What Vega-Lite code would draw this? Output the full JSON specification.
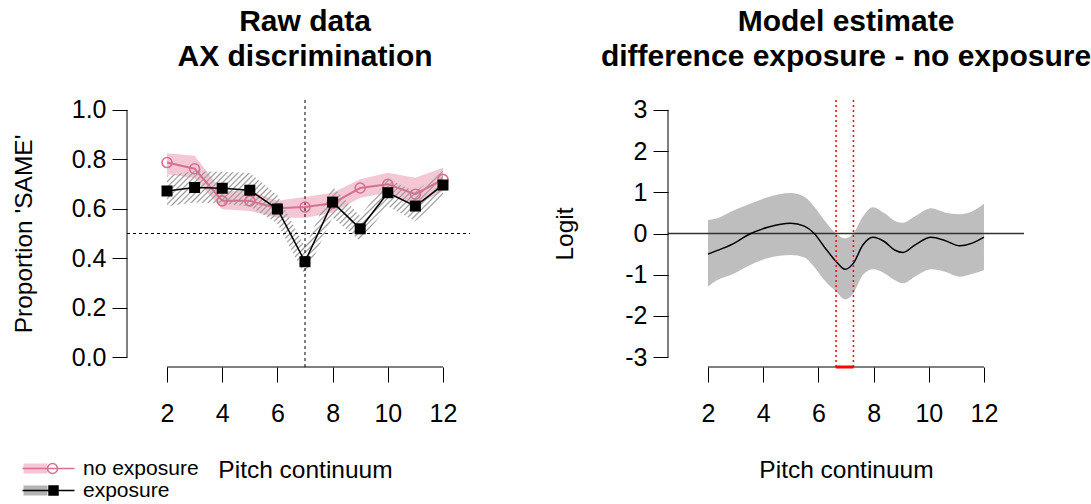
{
  "$schema": "https://vega.github.io/schema/vega-lite/v6.json",
  "padding": {"left": 10, "top": 7, "right": 5, "bottom": 5},
  "background": "white",
  "spacing": 68,
  "resolve": {"scale": {"fill": "independent", "stroke": "independent"}},
  "config": {
    "font": "Liberation Sans",
    "view": {"stroke": null},
    "axis": {"grid": false, "domain": false, "ticks": true, "tickSize": 15, "tickColor": "#000000", "tickWidth": 1, "labelColor": "#000000", "labelFontSize": 25, "titleColor": "#000000", "titleFontSize": 24.5, "titleFontWeight": "normal", "labelFont": "Liberation Sans", "titleFont": "Liberation Sans"},
    "title": {"fontSize": 30, "fontWeight": "bold", "color": "#000000", "lineHeight": 35, "frame": "group", "anchor": "middle", "offset": 25.5, "font": "Liberation Sans"},
    "legend": {"labelFont": "Liberation Sans"}
  },
  "datasets": {
    "raw": [
      {"x": 2, "series": "no exposure", "p": 0.787, "lo": 0.74, "hi": 0.825},
      {"x": 3, "series": "no exposure", "p": 0.762, "lo": 0.725, "hi": 0.815},
      {"x": 4, "series": "no exposure", "p": 0.632, "lo": 0.598, "hi": 0.672},
      {"x": 5, "series": "no exposure", "p": 0.632, "lo": 0.591, "hi": 0.672},
      {"x": 6, "series": "no exposure", "p": 0.602, "lo": 0.564, "hi": 0.632},
      {"x": 7, "series": "no exposure", "p": 0.607, "lo": 0.564, "hi": 0.648},
      {"x": 8, "series": "no exposure", "p": 0.622, "lo": 0.584, "hi": 0.665},
      {"x": 9, "series": "no exposure", "p": 0.684, "lo": 0.645, "hi": 0.719},
      {"x": 10, "series": "no exposure", "p": 0.699, "lo": 0.665, "hi": 0.746},
      {"x": 11, "series": "no exposure", "p": 0.659, "lo": 0.611, "hi": 0.726},
      {"x": 12, "series": "no exposure", "p": 0.719, "lo": 0.672, "hi": 0.766},
      {"x": 2, "series": "exposure", "p": 0.672, "lo": 0.61, "hi": 0.735},
      {"x": 3, "series": "exposure", "p": 0.686, "lo": 0.625, "hi": 0.752},
      {"x": 4, "series": "exposure", "p": 0.683, "lo": 0.62, "hi": 0.75},
      {"x": 5, "series": "exposure", "p": 0.675, "lo": 0.61, "hi": 0.745},
      {"x": 6, "series": "exposure", "p": 0.599, "lo": 0.54, "hi": 0.655},
      {"x": 7, "series": "exposure", "p": 0.386, "lo": 0.33, "hi": 0.445},
      {"x": 8, "series": "exposure", "p": 0.627, "lo": 0.565, "hi": 0.69},
      {"x": 9, "series": "exposure", "p": 0.519, "lo": 0.47, "hi": 0.57},
      {"x": 10, "series": "exposure", "p": 0.665, "lo": 0.61, "hi": 0.72},
      {"x": 11, "series": "exposure", "p": 0.611, "lo": 0.55, "hi": 0.67},
      {"x": 12, "series": "exposure", "p": 0.696, "lo": 0.645, "hi": 0.755}
    ],
    "model": [
      {"x": 2.0, "est": -0.5, "lo": -1.29, "hi": 0.33},
      {"x": 2.34, "est": -0.41, "lo": -1.13, "hi": 0.37},
      {"x": 2.82, "est": -0.28, "lo": -1.01, "hi": 0.53},
      {"x": 3.55, "est": 0.0, "lo": -0.76, "hi": 0.73},
      {"x": 4.16, "est": 0.15, "lo": -0.6, "hi": 0.88},
      {"x": 5.0, "est": 0.25, "lo": -0.52, "hi": 0.98},
      {"x": 5.49, "est": 0.18, "lo": -0.58, "hi": 0.89},
      {"x": 5.85, "est": 0.0, "lo": -0.81, "hi": 0.65},
      {"x": 6.21, "est": -0.32, "lo": -1.13, "hi": 0.33},
      {"x": 6.64, "est": -0.68, "lo": -1.41, "hi": 0.0},
      {"x": 6.97, "est": -0.87, "lo": -1.6, "hi": -0.12},
      {"x": 7.27, "est": -0.72, "lo": -1.45, "hi": 0.0},
      {"x": 7.61, "est": -0.28, "lo": -1.01, "hi": 0.41},
      {"x": 7.97, "est": -0.09, "lo": -0.87, "hi": 0.64},
      {"x": 8.4, "est": -0.2, "lo": -0.97, "hi": 0.49},
      {"x": 8.76, "est": -0.4, "lo": -1.13, "hi": 0.31},
      {"x": 9.07, "est": -0.46, "lo": -1.21, "hi": 0.26},
      {"x": 9.49, "est": -0.28, "lo": -1.05, "hi": 0.41},
      {"x": 10.09, "est": -0.09, "lo": -0.87, "hi": 0.61},
      {"x": 10.58, "est": -0.17, "lo": -0.93, "hi": 0.51},
      {"x": 11.12, "est": -0.3, "lo": -1.05, "hi": 0.47},
      {"x": 11.55, "est": -0.24, "lo": -0.98, "hi": 0.53},
      {"x": 12.0, "est": -0.09, "lo": -0.89, "hi": 0.72}
    ],
    "sig": [
      {"x": 6.64},
      {"x": 7.27}
    ]
  },
  "hconcat": [
    {
      "width": 356,
      "height": 267,
      "title": {"text": ["Raw data", "AX discrimination"]},
      "data": {"name": "raw"},
      "layer": [
        {
          "transform": [{"filter": "datum.series === 'no exposure'"}],
          "mark": {"type": "area"},
          "encoding": {
            "x": {"field": "x", "type": "quantitative", "title": "Pitch continuum", "scale": {"domain": [0.55, 13.45], "nice": false, "zero": false},
                  "axis": {"values": [2, 4, 6, 8, 10, 12], "labelBaseline": "alphabetic", "labelPadding": 39, "labelFlush": false, "titleBaseline": "alphabetic", "titleY": 110}},
            "y": {"field": "lo", "type": "quantitative", "title": "Proportion 'SAME'", "scale": {"domain": [-0.04, 1.04], "nice": false, "zero": false},
                  "axis": {"values": [0, 0.2, 0.4, 0.6, 0.8, 1.0], "format": ".1f", "labelPadding": 6, "titleX": -91, "titleBaseline": "bottom"}},
            "y2": {"field": "hi"},
            "fill": {"field": "series", "type": "nominal", "scale": {"domain": ["exposure", "no exposure"], "range": ["#b4b4b4", "#F3C7D4"]},
              "legend": {"orient": "none", "legendX": -89, "legendY": 358, "title": null, "values": ["no exposure", "exposure"], "symbolSize": 100, "labelFontSize": 21, "labelOffset": 24, "rowPadding": 0, "padding": 0, "labelColor": "transparent",
                "encode": {"symbols": {"update": {
                  "shape": {"value": "M-5,-1H-0.2V1H-5Z"},
                  "stroke": {"value": "transparent"},
                  "strokeWidth": {"value": 0},
                  "opacity": {"value": 1},
                  "fill": {"signal": "datum.value === 'exposure' ? {gradient: 'linear', x1: 0, y1: 0, x2: 1.2, y2: 0.52, stops: [{offset: 0, color: '#8a8a8a'}, {offset: 0.05, color: 'rgba(138,138,138,0)'}, {offset: 0.117, color: 'rgba(138,138,138,0)'}, {offset: 0.1667, color: '#8a8a8a'}, {offset: 0.2167, color: 'rgba(138,138,138,0)'}, {offset: 0.2833, color: 'rgba(138,138,138,0)'}, {offset: 0.3333, color: '#8a8a8a'}, {offset: 0.3833, color: 'rgba(138,138,138,0)'}, {offset: 0.45, color: 'rgba(138,138,138,0)'}, {offset: 0.5, color: '#8a8a8a'}, {offset: 0.55, color: 'rgba(138,138,138,0)'}, {offset: 0.6167, color: 'rgba(138,138,138,0)'}, {offset: 0.6667, color: '#8a8a8a'}, {offset: 0.7167, color: 'rgba(138,138,138,0)'}, {offset: 0.7833, color: 'rgba(138,138,138,0)'}, {offset: 0.8333, color: '#8a8a8a'}, {offset: 0.8833, color: 'rgba(138,138,138,0)'}, {offset: 0.95, color: 'rgba(138,138,138,0)'}, {offset: 1, color: '#8a8a8a'}]} : '#F3C7D4'"}
                }}}
              }
            }
          }
        },
        {
          "transform": [{"filter": "datum.series === 'exposure'"}],
          "mark": {"type": "area", "fill": {"gradient": "linear", "x1": 0, "y1": 0, "x2": 1.25, "y2": 0.475, "stops": [
            {"offset": 0, "color": "#999999"}, {"offset": 0.0043, "color": "rgba(153,153,153,0)"}, {"offset": 0.01, "color": "rgba(153,153,153,0)"},
            {"offset": 0.0143, "color": "#999999"}, {"offset": 0.0186, "color": "rgba(153,153,153,0)"}, {"offset": 0.0243, "color": "rgba(153,153,153,0)"},
            {"offset": 0.0286, "color": "#999999"}, {"offset": 0.0329, "color": "rgba(153,153,153,0)"}, {"offset": 0.0386, "color": "rgba(153,153,153,0)"},
            {"offset": 0.0429, "color": "#999999"}, {"offset": 0.0471, "color": "rgba(153,153,153,0)"}, {"offset": 0.0529, "color": "rgba(153,153,153,0)"},
            {"offset": 0.0571, "color": "#999999"}, {"offset": 0.0614, "color": "rgba(153,153,153,0)"}, {"offset": 0.0671, "color": "rgba(153,153,153,0)"},
            {"offset": 0.0714, "color": "#999999"}, {"offset": 0.0757, "color": "rgba(153,153,153,0)"}, {"offset": 0.0814, "color": "rgba(153,153,153,0)"},
            {"offset": 0.0857, "color": "#999999"}, {"offset": 0.09, "color": "rgba(153,153,153,0)"}, {"offset": 0.0957, "color": "rgba(153,153,153,0)"},
            {"offset": 0.1, "color": "#999999"}, {"offset": 0.1043, "color": "rgba(153,153,153,0)"}, {"offset": 0.11, "color": "rgba(153,153,153,0)"},
            {"offset": 0.1143, "color": "#999999"}, {"offset": 0.1186, "color": "rgba(153,153,153,0)"}, {"offset": 0.1243, "color": "rgba(153,153,153,0)"},
            {"offset": 0.1286, "color": "#999999"}, {"offset": 0.1329, "color": "rgba(153,153,153,0)"}, {"offset": 0.1386, "color": "rgba(153,153,153,0)"},
            {"offset": 0.1429, "color": "#999999"}, {"offset": 0.1471, "color": "rgba(153,153,153,0)"}, {"offset": 0.1529, "color": "rgba(153,153,153,0)"},
            {"offset": 0.1571, "color": "#999999"}, {"offset": 0.1614, "color": "rgba(153,153,153,0)"}, {"offset": 0.1671, "color": "rgba(153,153,153,0)"},
            {"offset": 0.1714, "color": "#999999"}, {"offset": 0.1757, "color": "rgba(153,153,153,0)"}, {"offset": 0.1814, "color": "rgba(153,153,153,0)"},
            {"offset": 0.1857, "color": "#999999"}, {"offset": 0.19, "color": "rgba(153,153,153,0)"}, {"offset": 0.1957, "color": "rgba(153,153,153,0)"},
            {"offset": 0.2, "color": "#999999"}, {"offset": 0.2043, "color": "rgba(153,153,153,0)"}, {"offset": 0.21, "color": "rgba(153,153,153,0)"},
            {"offset": 0.2143, "color": "#999999"}, {"offset": 0.2186, "color": "rgba(153,153,153,0)"}, {"offset": 0.2243, "color": "rgba(153,153,153,0)"},
            {"offset": 0.2286, "color": "#999999"}, {"offset": 0.2329, "color": "rgba(153,153,153,0)"}, {"offset": 0.2386, "color": "rgba(153,153,153,0)"},
            {"offset": 0.2429, "color": "#999999"}, {"offset": 0.2471, "color": "rgba(153,153,153,0)"}, {"offset": 0.2529, "color": "rgba(153,153,153,0)"},
            {"offset": 0.2571, "color": "#999999"}, {"offset": 0.2614, "color": "rgba(153,153,153,0)"}, {"offset": 0.2671, "color": "rgba(153,153,153,0)"},
            {"offset": 0.2714, "color": "#999999"}, {"offset": 0.2757, "color": "rgba(153,153,153,0)"}, {"offset": 0.2814, "color": "rgba(153,153,153,0)"},
            {"offset": 0.2857, "color": "#999999"}, {"offset": 0.29, "color": "rgba(153,153,153,0)"}, {"offset": 0.2957, "color": "rgba(153,153,153,0)"},
            {"offset": 0.3, "color": "#999999"}, {"offset": 0.3043, "color": "rgba(153,153,153,0)"}, {"offset": 0.31, "color": "rgba(153,153,153,0)"},
            {"offset": 0.3143, "color": "#999999"}, {"offset": 0.3186, "color": "rgba(153,153,153,0)"}, {"offset": 0.3243, "color": "rgba(153,153,153,0)"},
            {"offset": 0.3286, "color": "#999999"}, {"offset": 0.3329, "color": "rgba(153,153,153,0)"}, {"offset": 0.3386, "color": "rgba(153,153,153,0)"},
            {"offset": 0.3429, "color": "#999999"}, {"offset": 0.3471, "color": "rgba(153,153,153,0)"}, {"offset": 0.3529, "color": "rgba(153,153,153,0)"},
            {"offset": 0.3571, "color": "#999999"}, {"offset": 0.3614, "color": "rgba(153,153,153,0)"}, {"offset": 0.3671, "color": "rgba(153,153,153,0)"},
            {"offset": 0.3714, "color": "#999999"}, {"offset": 0.3757, "color": "rgba(153,153,153,0)"}, {"offset": 0.3814, "color": "rgba(153,153,153,0)"},
            {"offset": 0.3857, "color": "#999999"}, {"offset": 0.39, "color": "rgba(153,153,153,0)"}, {"offset": 0.3957, "color": "rgba(153,153,153,0)"},
            {"offset": 0.4, "color": "#999999"}, {"offset": 0.4043, "color": "rgba(153,153,153,0)"}, {"offset": 0.41, "color": "rgba(153,153,153,0)"},
            {"offset": 0.4143, "color": "#999999"}, {"offset": 0.4186, "color": "rgba(153,153,153,0)"}, {"offset": 0.4243, "color": "rgba(153,153,153,0)"},
            {"offset": 0.4286, "color": "#999999"}, {"offset": 0.4329, "color": "rgba(153,153,153,0)"}, {"offset": 0.4386, "color": "rgba(153,153,153,0)"},
            {"offset": 0.4429, "color": "#999999"}, {"offset": 0.4471, "color": "rgba(153,153,153,0)"}, {"offset": 0.4529, "color": "rgba(153,153,153,0)"},
            {"offset": 0.4571, "color": "#999999"}, {"offset": 0.4614, "color": "rgba(153,153,153,0)"}, {"offset": 0.4671, "color": "rgba(153,153,153,0)"},
            {"offset": 0.4714, "color": "#999999"}, {"offset": 0.4757, "color": "rgba(153,153,153,0)"}, {"offset": 0.4814, "color": "rgba(153,153,153,0)"},
            {"offset": 0.4857, "color": "#999999"}, {"offset": 0.49, "color": "rgba(153,153,153,0)"}, {"offset": 0.4957, "color": "rgba(153,153,153,0)"},
            {"offset": 0.5, "color": "#999999"}, {"offset": 0.5043, "color": "rgba(153,153,153,0)"}, {"offset": 0.51, "color": "rgba(153,153,153,0)"},
            {"offset": 0.5143, "color": "#999999"}, {"offset": 0.5186, "color": "rgba(153,153,153,0)"}, {"offset": 0.5243, "color": "rgba(153,153,153,0)"},
            {"offset": 0.5286, "color": "#999999"}, {"offset": 0.5329, "color": "rgba(153,153,153,0)"}, {"offset": 0.5386, "color": "rgba(153,153,153,0)"},
            {"offset": 0.5429, "color": "#999999"}, {"offset": 0.5471, "color": "rgba(153,153,153,0)"}, {"offset": 0.5529, "color": "rgba(153,153,153,0)"},
            {"offset": 0.5571, "color": "#999999"}, {"offset": 0.5614, "color": "rgba(153,153,153,0)"}, {"offset": 0.5671, "color": "rgba(153,153,153,0)"},
            {"offset": 0.5714, "color": "#999999"}, {"offset": 0.5757, "color": "rgba(153,153,153,0)"}, {"offset": 0.5814, "color": "rgba(153,153,153,0)"},
            {"offset": 0.5857, "color": "#999999"}, {"offset": 0.59, "color": "rgba(153,153,153,0)"}, {"offset": 0.5957, "color": "rgba(153,153,153,0)"},
            {"offset": 0.6, "color": "#999999"}, {"offset": 0.6043, "color": "rgba(153,153,153,0)"}, {"offset": 0.61, "color": "rgba(153,153,153,0)"},
            {"offset": 0.6143, "color": "#999999"}, {"offset": 0.6186, "color": "rgba(153,153,153,0)"}, {"offset": 0.6243, "color": "rgba(153,153,153,0)"},
            {"offset": 0.6286, "color": "#999999"}, {"offset": 0.6329, "color": "rgba(153,153,153,0)"}, {"offset": 0.6386, "color": "rgba(153,153,153,0)"},
            {"offset": 0.6429, "color": "#999999"}, {"offset": 0.6471, "color": "rgba(153,153,153,0)"}, {"offset": 0.6529, "color": "rgba(153,153,153,0)"},
            {"offset": 0.6571, "color": "#999999"}, {"offset": 0.6614, "color": "rgba(153,153,153,0)"}, {"offset": 0.6671, "color": "rgba(153,153,153,0)"},
            {"offset": 0.6714, "color": "#999999"}, {"offset": 0.6757, "color": "rgba(153,153,153,0)"}, {"offset": 0.6814, "color": "rgba(153,153,153,0)"},
            {"offset": 0.6857, "color": "#999999"}, {"offset": 0.69, "color": "rgba(153,153,153,0)"}, {"offset": 0.6957, "color": "rgba(153,153,153,0)"},
            {"offset": 0.7, "color": "#999999"}, {"offset": 0.7043, "color": "rgba(153,153,153,0)"}, {"offset": 0.71, "color": "rgba(153,153,153,0)"},
            {"offset": 0.7143, "color": "#999999"}, {"offset": 0.7186, "color": "rgba(153,153,153,0)"}, {"offset": 0.7243, "color": "rgba(153,153,153,0)"},
            {"offset": 0.7286, "color": "#999999"}, {"offset": 0.7329, "color": "rgba(153,153,153,0)"}, {"offset": 0.7386, "color": "rgba(153,153,153,0)"},
            {"offset": 0.7429, "color": "#999999"}, {"offset": 0.7471, "color": "rgba(153,153,153,0)"}, {"offset": 0.7529, "color": "rgba(153,153,153,0)"},
            {"offset": 0.7571, "color": "#999999"}, {"offset": 0.7614, "color": "rgba(153,153,153,0)"}, {"offset": 0.7671, "color": "rgba(153,153,153,0)"},
            {"offset": 0.7714, "color": "#999999"}, {"offset": 0.7757, "color": "rgba(153,153,153,0)"}, {"offset": 0.7814, "color": "rgba(153,153,153,0)"},
            {"offset": 0.7857, "color": "#999999"}, {"offset": 0.79, "color": "rgba(153,153,153,0)"}, {"offset": 0.7957, "color": "rgba(153,153,153,0)"},
            {"offset": 0.8, "color": "#999999"}, {"offset": 0.8043, "color": "rgba(153,153,153,0)"}, {"offset": 0.81, "color": "rgba(153,153,153,0)"},
            {"offset": 0.8143, "color": "#999999"}, {"offset": 0.8186, "color": "rgba(153,153,153,0)"}, {"offset": 0.8243, "color": "rgba(153,153,153,0)"},
            {"offset": 0.8286, "color": "#999999"}, {"offset": 0.8329, "color": "rgba(153,153,153,0)"}, {"offset": 0.8386, "color": "rgba(153,153,153,0)"},
            {"offset": 0.8429, "color": "#999999"}, {"offset": 0.8471, "color": "rgba(153,153,153,0)"}, {"offset": 0.8529, "color": "rgba(153,153,153,0)"},
            {"offset": 0.8571, "color": "#999999"}, {"offset": 0.8614, "color": "rgba(153,153,153,0)"}, {"offset": 0.8671, "color": "rgba(153,153,153,0)"},
            {"offset": 0.8714, "color": "#999999"}, {"offset": 0.8757, "color": "rgba(153,153,153,0)"}, {"offset": 0.8814, "color": "rgba(153,153,153,0)"},
            {"offset": 0.8857, "color": "#999999"}, {"offset": 0.89, "color": "rgba(153,153,153,0)"}, {"offset": 0.8957, "color": "rgba(153,153,153,0)"},
            {"offset": 0.9, "color": "#999999"}, {"offset": 0.9043, "color": "rgba(153,153,153,0)"}, {"offset": 0.91, "color": "rgba(153,153,153,0)"},
            {"offset": 0.9143, "color": "#999999"}, {"offset": 0.9186, "color": "rgba(153,153,153,0)"}, {"offset": 0.9243, "color": "rgba(153,153,153,0)"},
            {"offset": 0.9286, "color": "#999999"}, {"offset": 0.9329, "color": "rgba(153,153,153,0)"}, {"offset": 0.9386, "color": "rgba(153,153,153,0)"},
            {"offset": 0.9429, "color": "#999999"}, {"offset": 0.9471, "color": "rgba(153,153,153,0)"}, {"offset": 0.9529, "color": "rgba(153,153,153,0)"},
            {"offset": 0.9571, "color": "#999999"}, {"offset": 0.9614, "color": "rgba(153,153,153,0)"}, {"offset": 0.9671, "color": "rgba(153,153,153,0)"},
            {"offset": 0.9714, "color": "#999999"}, {"offset": 0.9757, "color": "rgba(153,153,153,0)"}, {"offset": 0.9814, "color": "rgba(153,153,153,0)"},
            {"offset": 0.9857, "color": "#999999"}, {"offset": 0.99, "color": "rgba(153,153,153,0)"}, {"offset": 0.9957, "color": "rgba(153,153,153,0)"},
            {"offset": 1, "color": "#999999"}]}},
          "encoding": {
            "x": {"field": "x", "type": "quantitative", "title": "Pitch continuum"},
            "y": {"field": "lo", "type": "quantitative", "title": "Proportion 'SAME'"},
            "y2": {"field": "hi"}
          }
        },
        {
          "data": {"values": [{}]},
          "mark": {"type": "rule", "color": "#000000", "strokeWidth": 1, "strokeDash": [3, 3]},
          "encoding": {
            "x": {"datum": 7, "type": "quantitative", "title": "Pitch continuum"},
            "y": {"datum": -0.04, "type": "quantitative", "title": "Proportion 'SAME'"},
            "y2": {"datum": 1.04}
          }
        },
        {
          "data": {"values": [{}]},
          "mark": {"type": "rule", "color": "#000000", "strokeWidth": 1, "strokeDash": [3, 3]},
          "encoding": {
            "x": {"datum": 0.55, "type": "quantitative", "title": "Pitch continuum"},
            "x2": {"datum": 12.98},
            "y": {"datum": 0.5, "type": "quantitative", "title": "Proportion 'SAME'"}
          }
        },
        {
          "data": {"values": [{}]},
          "mark": {"type": "rule", "color": "#000000", "strokeWidth": 1},
          "encoding": {
            "x": {"datum": 2, "type": "quantitative", "title": "Pitch continuum"},
            "x2": {"datum": 12},
            "y": {"datum": -0.04, "type": "quantitative", "title": "Proportion 'SAME'"}
          }
        },
        {
          "data": {"values": [{}]},
          "mark": {"type": "rule", "color": "#000000", "strokeWidth": 1},
          "encoding": {
            "x": {"datum": 0.55, "type": "quantitative", "title": "Pitch continuum"},
            "y": {"datum": 0, "type": "quantitative", "title": "Proportion 'SAME'"},
            "y2": {"datum": 1}
          }
        },
        {
          "transform": [{"filter": "datum.series === 'no exposure'"}],
          "mark": {"type": "line", "strokeWidth": 2},
          "encoding": {
            "x": {"field": "x", "type": "quantitative", "title": "Pitch continuum"},
            "y": {"field": "p", "type": "quantitative", "title": "Proportion 'SAME'"},
            "stroke": {"field": "series", "type": "nominal", "scale": {"domain": ["no exposure", "exposure"], "range": ["#D6708F", "#000000"]},
              "legend": {"orient": "none", "legendX": -89, "legendY": 358, "title": null, "symbolSize": 100, "labelFontSize": 21, "labelColor": "#000000", "labelOffset": 24, "rowPadding": 0, "padding": 0,
                "encode": {"symbols": {"update": {
                  "shape": [
                    {"test": "datum.value === 'exposure'", "value": "M-5.2,0H5.2M0.1,-0.9H1.9V0.9H0.1Z"},
                    {"value": "M-5.2,0H5.2M1.8,0A1,1,0,1,1,-0.2,0A1,1,0,1,1,1.8,0"}
                  ],
                  "fill": [
                    {"test": "datum.value === 'exposure'", "value": "#000000"},
                    {"value": "transparent"}
                  ],
                  "strokeWidth": {"value": 1.5},
                  "opacity": {"value": 1}
                }}}
              }
            }
          }
        },
        {
          "transform": [{"filter": "datum.series === 'no exposure'"}],
          "mark": {"type": "point", "shape": "circle", "filled": false, "stroke": "#D6708F", "strokeWidth": 1.6, "size": 100, "opacity": 1},
          "encoding": {
            "x": {"field": "x", "type": "quantitative", "title": "Pitch continuum"},
            "y": {"field": "p", "type": "quantitative", "title": "Proportion 'SAME'"}
          }
        },
        {
          "transform": [{"filter": "datum.series === 'exposure'"}],
          "mark": {"type": "line", "strokeWidth": 1.5},
          "encoding": {
            "x": {"field": "x", "type": "quantitative", "title": "Pitch continuum"},
            "y": {"field": "p", "type": "quantitative", "title": "Proportion 'SAME'"},
            "stroke": {"field": "series", "type": "nominal", "scale": {"domain": ["no exposure", "exposure"], "range": ["#D6708F", "#000000"]}}
          }
        },
        {
          "transform": [{"filter": "datum.series === 'exposure'"}],
          "mark": {"type": "point", "shape": "square", "filled": true, "fill": "#000000", "stroke": "#000000", "strokeWidth": 0, "size": 121, "opacity": 1},
          "encoding": {
            "x": {"field": "x", "type": "quantitative", "title": "Pitch continuum"},
            "y": {"field": "p", "type": "quantitative", "title": "Proportion 'SAME'"}
          }
        }
      ]
    },
    {
      "width": 356,
      "height": 267,
      "title": {"text": ["Model estimate", "difference exposure - no exposure"]},
      "data": {"name": "model"},
      "layer": [
        {
          "mark": {"type": "area", "fill": "#BEBEBE", "interpolate": "monotone"},
          "encoding": {
            "x": {"field": "x", "type": "quantitative", "title": "Pitch continuum", "scale": {"domain": [0.55, 13.45], "nice": false, "zero": false},
                  "axis": {"values": [2, 4, 6, 8, 10, 12], "labelBaseline": "alphabetic", "labelPadding": 39, "labelFlush": false, "titleBaseline": "alphabetic", "titleY": 110}},
            "y": {"field": "lo", "type": "quantitative", "title": "Logit", "scale": {"domain": [-3.24, 3.24], "nice": false, "zero": false},
                  "axis": {"values": [-3, -2, -1, 0, 1, 2, 3], "labelExpr": "datum.value < 0 ? '-' + abs(datum.value) : '' + datum.value", "labelPadding": 6, "titleX": -91, "titleBaseline": "bottom"}},
            "y2": {"field": "hi"}
          }
        },
        {
          "data": {"values": [{}]},
          "mark": {"type": "rule", "color": "#333333", "strokeWidth": 1.5},
          "encoding": {
            "x": {"datum": 0.55, "type": "quantitative", "title": "Pitch continuum"},
            "x2": {"datum": 13.45},
            "y": {"datum": 0, "type": "quantitative", "title": "Logit"}
          }
        },
        {
          "mark": {"type": "line", "color": "#000000", "strokeWidth": 1.5, "interpolate": "monotone"},
          "encoding": {
            "x": {"field": "x", "type": "quantitative", "title": "Pitch continuum"},
            "y": {"field": "est", "type": "quantitative", "title": "Logit"}
          }
        },
        {
          "data": {"name": "sig"},
          "mark": {"type": "rule", "color": "#FF0000", "strokeWidth": 1.5, "strokeDash": [2, 3]},
          "encoding": {
            "x": {"field": "x", "type": "quantitative", "title": "Pitch continuum"},
            "y": {"datum": -3.24, "type": "quantitative", "title": "Logit"},
            "y2": {"datum": 3.24}
          }
        },
        {
          "data": {"values": [{}]},
          "mark": {"type": "rule", "color": "#000000", "strokeWidth": 1},
          "encoding": {
            "x": {"datum": 2, "type": "quantitative", "title": "Pitch continuum"},
            "x2": {"datum": 12},
            "y": {"datum": -3.24, "type": "quantitative", "title": "Logit"}
          }
        },
        {
          "data": {"values": [{}]},
          "mark": {"type": "rule", "color": "#000000", "strokeWidth": 1},
          "encoding": {
            "x": {"datum": 0.55, "type": "quantitative", "title": "Pitch continuum"},
            "y": {"datum": -3, "type": "quantitative", "title": "Logit"},
            "y2": {"datum": 3}
          }
        },
        {
          "data": {"values": [{}]},
          "mark": {"type": "rule", "color": "#FF0000", "strokeWidth": 3},
          "encoding": {
            "x": {"datum": 6.64, "type": "quantitative", "title": "Pitch continuum"},
            "x2": {"datum": 7.27},
            "y": {"datum": -3.24, "type": "quantitative", "title": "Logit"}
          }
        }
      ]
    }
  ]
}
